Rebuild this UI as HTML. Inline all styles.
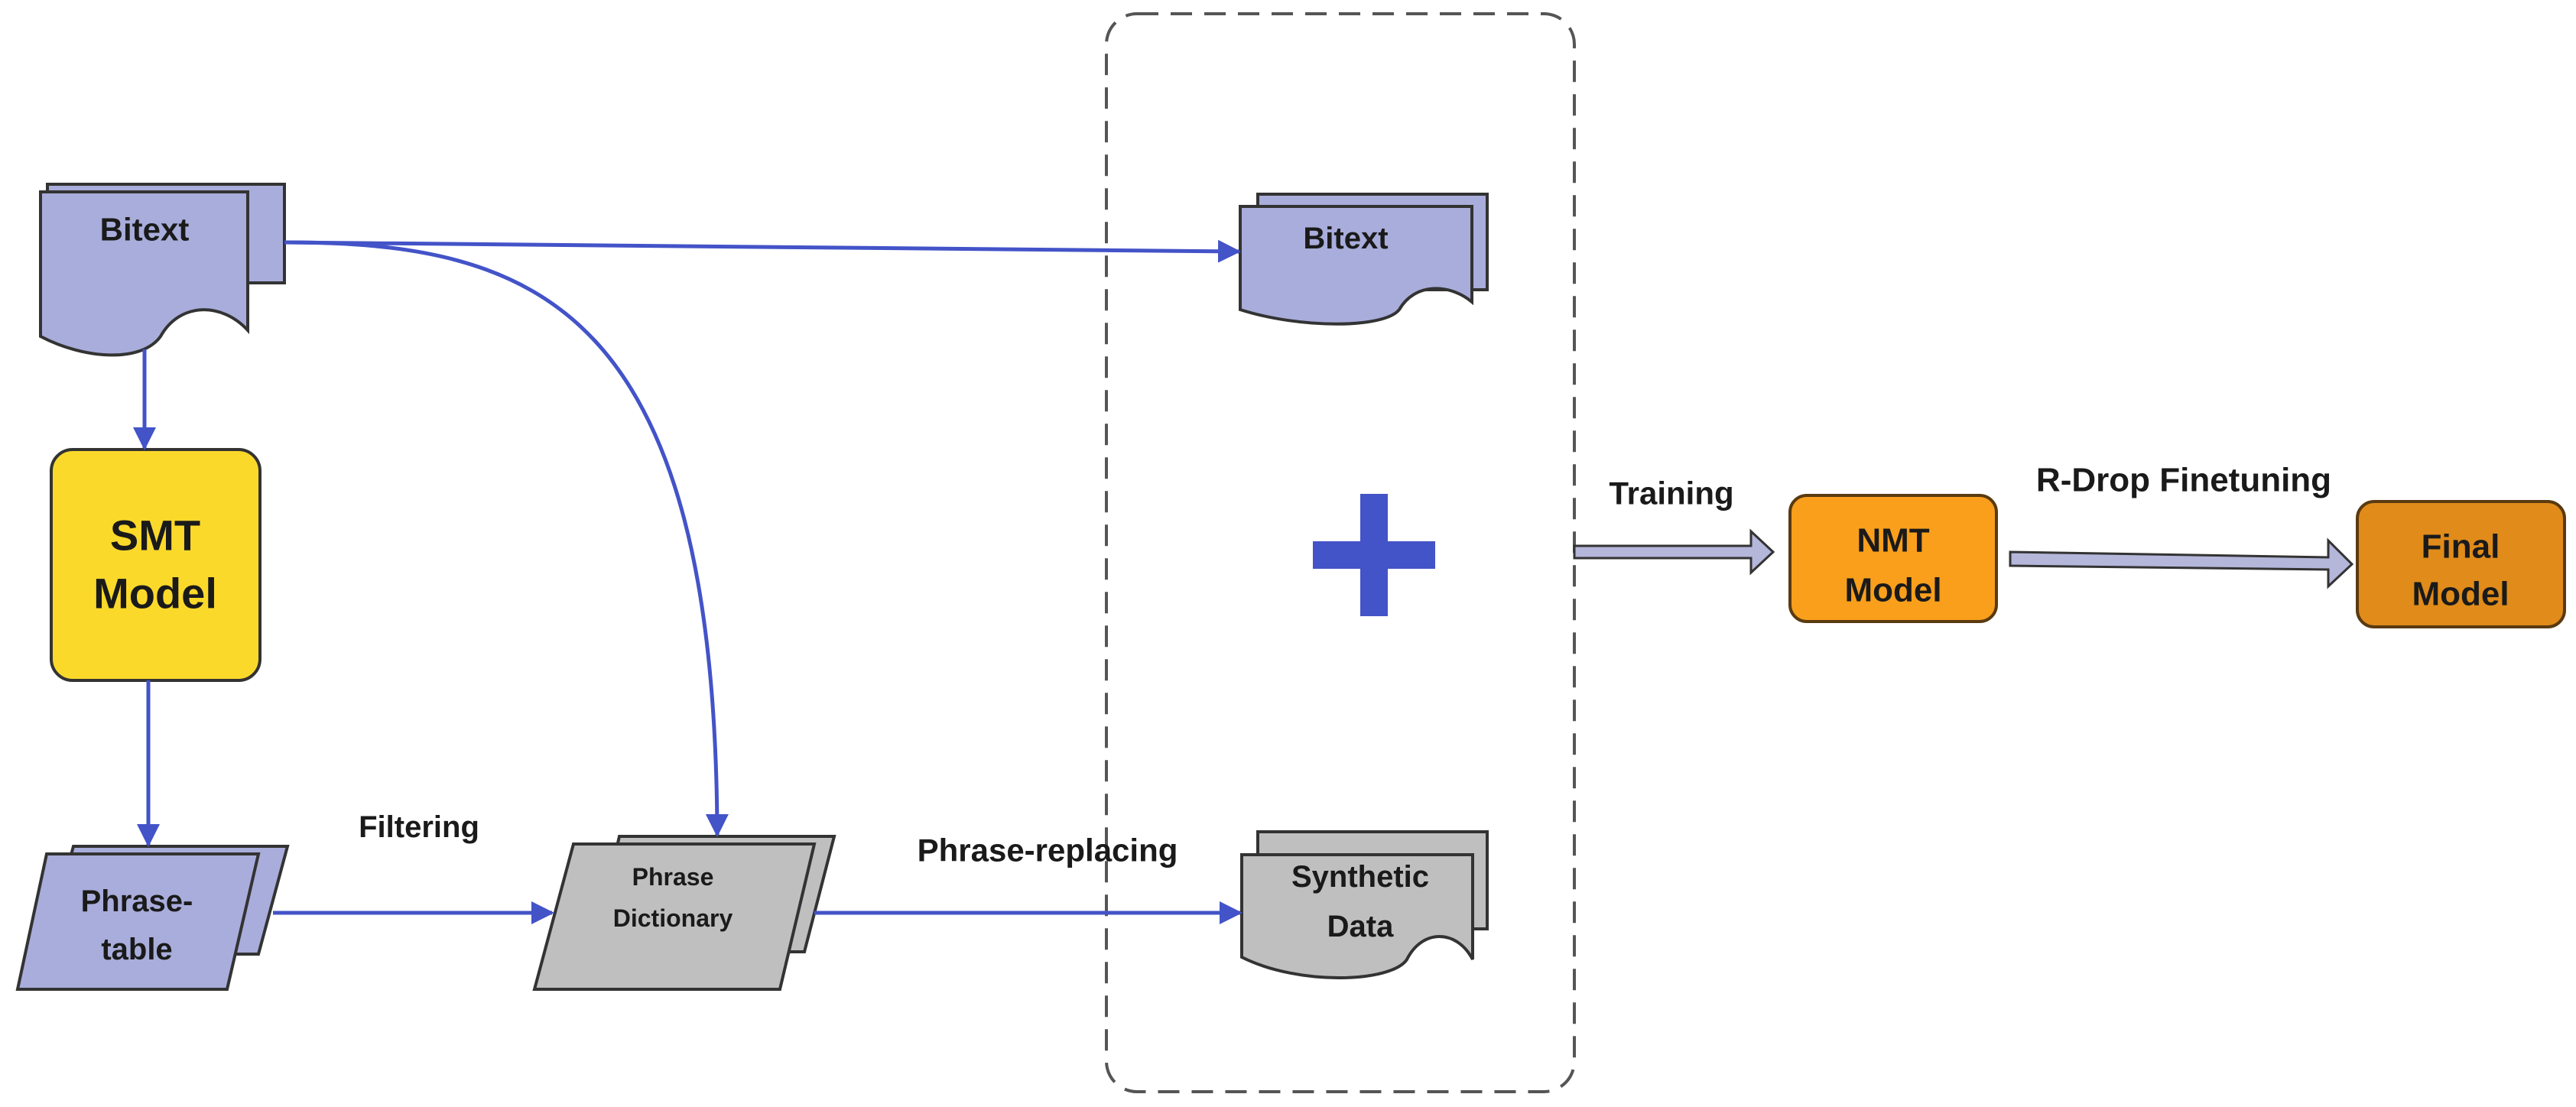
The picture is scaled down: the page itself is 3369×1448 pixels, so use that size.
<!DOCTYPE html>
<html><head><meta charset="utf-8"><style>
html,body{margin:0;padding:0;background:#fff;}
svg{display:block}
text{font-family:"Liberation Sans",sans-serif;font-weight:bold;fill:#1a1a1a;text-anchor:middle;dominant-baseline:central}
</style></head><body>
<svg width="3369" height="1448" viewBox="0 0 3369 1448" xmlns="http://www.w3.org/2000/svg">
<defs>
<marker id="ah" viewBox="0 0 10 10" refX="9" refY="5" markerWidth="6" markerHeight="6" orient="auto" markerUnits="strokeWidth">
<path d="M0,0 L10,5 L0,10 Z" fill="#4353C8"/></marker>
</defs>

<!-- dashed container -->
<rect x="1447" y="18" width="612" height="1410" rx="40" fill="none" stroke="#555" stroke-width="4" stroke-dasharray="28,16"/>

<!-- Bitext left -->
<rect x="62" y="241" width="310" height="129" fill="#A9ADDB" stroke="#333" stroke-width="4"/>
<path d="M62,370 L372,370" stroke="none"/>
<path d="M53,251 H324 V432 C290,395 235,395 210,440 C185,475 110,470 53,440 Z" fill="#A9ADDB" stroke="#333" stroke-width="4"/>
<text x="189" y="300" font-size="42">Bitext</text>

<!-- SMT -->
<rect x="67" y="588" width="273" height="302" rx="28" fill="#FBD92A" stroke="#333" stroke-width="4"/>
<text x="203" y="700" font-size="56">SMT</text>
<text x="203" y="776" font-size="56">Model</text>

<!-- Phrase-table -->
<path d="M96,1107 H376 L338,1248 H58 Z" fill="#A9ADDB" stroke="#333" stroke-width="4"/>
<path d="M61,1117 H338 L297,1294 H23 Z" fill="#A9ADDB" stroke="#333" stroke-width="4"/>
<text x="179" y="1179" font-size="40">Phrase-</text>
<text x="179" y="1242" font-size="40">table</text>

<!-- Phrase Dictionary -->
<path d="M810,1094 H1091 L1052,1245 H775 Z" fill="#BFBFBF" stroke="#333" stroke-width="4"/>
<path d="M750,1104 H1065 L1020,1294 H699 Z" fill="#BFBFBF" stroke="#333" stroke-width="4"/>
<text x="880" y="1147" font-size="32">Phrase</text>
<text x="880" y="1201" font-size="32">Dictionary</text>

<!-- Bitext right -->
<rect x="1645" y="254" width="300" height="125" fill="#A9ADDB" stroke="#333" stroke-width="4"/>
<path d="M1622,270 H1925 V395 C1895,370 1850,370 1830,405 C1810,430 1700,430 1622,405 Z" fill="#A9ADDB" stroke="#333" stroke-width="4"/>
<text x="1760" y="312" font-size="40">Bitext</text>

<!-- Plus -->
<rect x="1717" y="708" width="160" height="36" fill="#4353C8"/>
<rect x="1779" y="646" width="36" height="160" fill="#4353C8"/>

<!-- Synthetic Data -->
<rect x="1645" y="1088" width="300" height="127" fill="#BFBFBF" stroke="#333" stroke-width="4"/>
<path d="M1624,1118 H1926 V1255 C1905,1215 1860,1215 1840,1255 C1820,1285 1700,1290 1624,1252 Z" fill="#BFBFBF" stroke="#333" stroke-width="4"/>
<text x="1779" y="1147" font-size="40">Synthetic</text>
<text x="1779" y="1212" font-size="40">Data</text>

<!-- connectors -->
<g stroke="#4353C8" stroke-width="5" fill="none">
<path d="M189,457 V586" marker-end="url(#ah)"/>
<path d="M194,890 V1105" marker-end="url(#ah)"/>
<path d="M372,317 L1620,329" marker-end="url(#ah)"/>
<path d="M372,317 C700,317 936,400 938,1092" marker-end="url(#ah)"/>
<path d="M357,1194 H722" marker-end="url(#ah)"/>
<path d="M1065,1194 H1622" marker-end="url(#ah)"/>
</g>

<text x="548" y="1082" font-size="40">Filtering</text>
<text x="1370" y="1112" font-size="42">Phrase-replacing</text>

<!-- Training arrow -->
<path d="M2059,714 H2290 V695 L2319,722 L2290,749 V730 H2059 Z" fill="#B4B6DA" stroke="#333" stroke-width="3"/>
<text x="2186" y="645" font-size="42">Training</text>

<!-- NMT -->
<rect x="2341" y="648" width="270" height="165" rx="22" fill="#F99F1B" stroke="#5a3a10" stroke-width="4"/>
<text x="2476" y="707" font-size="44">NMT</text>
<text x="2476" y="772" font-size="44">Model</text>

<!-- R-drop arrow -->
<path d="M2629,722 L3045,729 V707 L3076,738 L3045,767 V745 L2629,740 Z" fill="#B4B6DA" stroke="#333" stroke-width="3"/>
<text x="2856" y="628" font-size="44">R-Drop Finetuning</text>

<!-- Final -->
<rect x="3083" y="656" width="271" height="164" rx="22" fill="#E08B1A" stroke="#5a3a10" stroke-width="4"/>
<text x="3218" y="715" font-size="44">Final</text>
<text x="3218" y="777" font-size="44">Model</text>
</svg>
</body></html>
